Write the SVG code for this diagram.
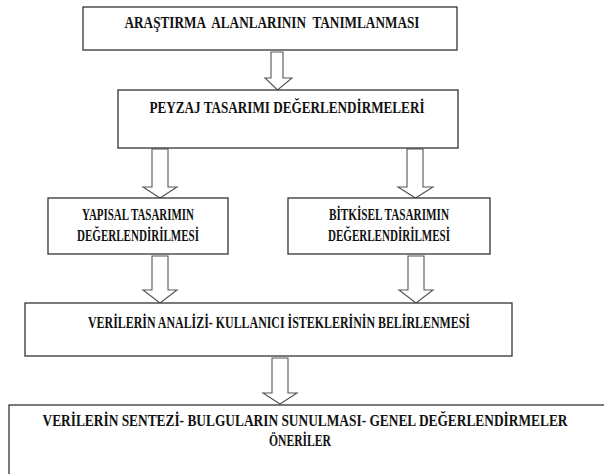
<svg xmlns="http://www.w3.org/2000/svg" width="604" height="474" viewBox="0 0 604 474">
<style>
.box{fill:#fff;stroke:#333;stroke-width:1.3}
.arr{fill:#fff;stroke:#555;stroke-width:1.1;stroke-linejoin:miter}
text{font-family:"Liberation Serif","Times New Roman",serif;font-weight:bold;font-size:16px;fill:#111;text-anchor:middle;white-space:pre}
</style>
<rect width="604" height="474" fill="#fff"/>
<g id="connectors">
<polygon class="arr" points="271,52 283,52 283,78 292,78 277.5,90 265,78 271,78"/>
<polygon class="arr" points="152,149 168,149 168,187 177,187 160,198 143,187 152,187"/>
<polygon class="arr" points="407,149 423,149 423,187 433,187 415.5,198 398,187 407,187"/>
<polygon class="arr" points="152,256 168,256 168,290 177,290 160,303 143,290 152,290"/>
<polygon class="arr" points="408,256 424,256 424,290 433,290 416,303 399,290 408,290"/>
<polygon class="arr" points="272,358 288,358 288,393 297,393 280,404 263,393 272,393"/>
</g>
<g id="n1">
<rect class="box" x="83" y="7" width="374" height="43"/>
<text x="272" y="28" textLength="295" lengthAdjust="spacingAndGlyphs" xml:space="preserve">ARAŞTIRMA  ALANLARININ  TANIMLANMASI</text>
</g>
<g id="n2">
<rect class="box" x="118" y="90" width="340" height="58"/>
<text x="287" y="113" textLength="275" lengthAdjust="spacingAndGlyphs">PEYZAJ TASARIMI DEĞERLENDİRMELERİ</text>
</g>
<g id="n3">
<rect class="box" x="48" y="198" width="180" height="56"/>
<text x="138" y="220" textLength="112" lengthAdjust="spacingAndGlyphs">YAPISAL TASARIMIN</text>
<text x="138" y="241" textLength="122" lengthAdjust="spacingAndGlyphs">DEĞERLENDİRİLMESİ</text>
</g>
<g id="n4">
<rect class="box" x="288" y="198" width="202" height="56"/>
<text x="389" y="220" textLength="120" lengthAdjust="spacingAndGlyphs">BİTKİSEL TASARIMIN</text>
<text x="389" y="241" textLength="122" lengthAdjust="spacingAndGlyphs">DEĞERLENDİRİLMESİ</text>
</g>
<g id="n5">
<rect class="box" x="25" y="303" width="487" height="53"/>
<text x="279" y="328" textLength="382" lengthAdjust="spacingAndGlyphs">VERİLERİN ANALİZİ- KULLANICI İSTEKLERİNİN BELİRLENMESİ</text>
</g>
<g id="n6">
<rect class="box" x="9" y="405" width="605" height="80"/>
<text x="305" y="426" textLength="525" lengthAdjust="spacingAndGlyphs">VERİLERİN SENTEZİ- BULGULARIN SUNULMASI- GENEL DEĞERLENDİRMELER</text>
<text x="300" y="446" textLength="62" lengthAdjust="spacingAndGlyphs">ÖNERİLER</text>
</g>
</svg>
